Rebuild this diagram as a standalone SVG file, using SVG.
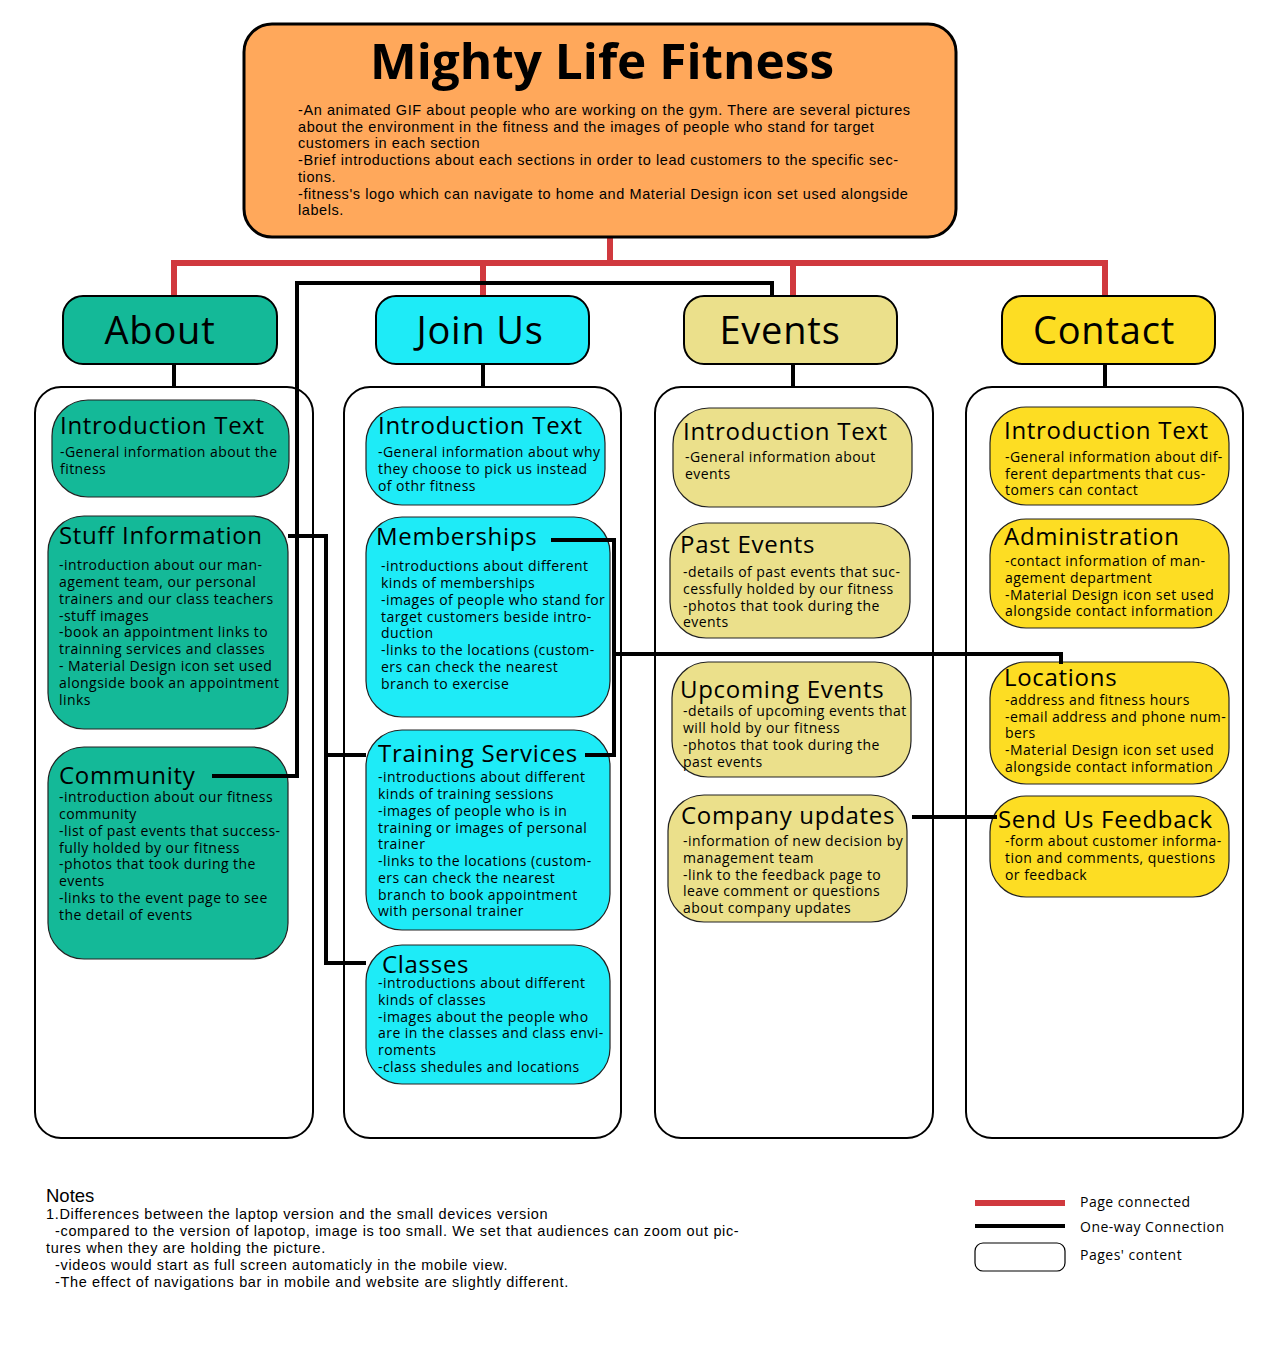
<svg xmlns="http://www.w3.org/2000/svg" width="1280" height="1350" viewBox="0 0 1280 1350">
<style>
.hdr{fill:#FFA85B;stroke:#000;stroke-width:3}
.cat{stroke:#000;stroke-width:2}
.col{fill:#fff;stroke:#000;stroke-width:2}
.item{stroke:#222;stroke-width:1.2}
.teal{fill:#14B998}
.cyan{fill:#1EEBF7}
.khaki{fill:#EBE08B}
.yellow{fill:#FDDD23}
text{font-family:"Open Sans","Liberation Sans",sans-serif;fill:#000}
.title{font-size:48px;font-weight:bold}
.hbody{font-family:"Liberation Sans",sans-serif;font-size:14.5px;letter-spacing:0.58px}
.catt{font-size:38px;letter-spacing:0.8px;text-anchor:middle}
.it{font-size:24px;letter-spacing:0.7px}
.ib{font-size:14px;letter-spacing:0.45px}
.red{fill:none;stroke:#D0393E;stroke-width:6}
.blk{fill:none;stroke:#000;stroke-width:4}
.note{font-family:"Liberation Sans",sans-serif;font-size:14.5px;letter-spacing:0.65px}
.leg{font-size:14px;letter-spacing:0.5px}
</style>
<rect width="1280" height="1350" fill="#fff"/>

<g id="connectors">
<path class="red" d="M610 237V263M174 296V263H1105V296M483 263V296M793 263V296"/>
<path class="blk" d="M174 364V387M483 364V387M793 364V387M1105 364V387"/>
</g>

<g id="header">
<rect class="hdr" x="244" y="24" width="712" height="213" rx="28"/>
<text class="title" x="602" y="79" text-anchor="middle" textLength="464" lengthAdjust="spacingAndGlyphs">Mighty Life Fitness</text>
<text class="hbody" x="298" y="115">-An animated GIF about people who are working on the gym. There are several pictures</text>
<text class="hbody" x="298" y="132">about the environment in the fitness and the images of people who stand for target</text>
<text class="hbody" x="298" y="148">customers in each section</text>
<text class="hbody" x="298" y="165">-Brief introductions about each sections in order to lead customers to the specific sec-</text>
<text class="hbody" x="298" y="182">tions.</text>
<text class="hbody" x="298" y="199">-fitness's logo which can navigate to home and Material Design icon set used alongside</text>
<text class="hbody" x="298" y="215">labels.</text>
</g>

<g id="cat-about"><rect class="cat teal" x="63" y="296" width="214" height="68" rx="20"/><text class="catt" x="160" y="344">About</text></g>
<g id="cat-join"><rect class="cat cyan" x="376" y="296" width="213" height="68" rx="20"/><text class="catt" x="480" y="344">Join Us</text></g>
<g id="cat-events"><rect class="cat khaki" x="684" y="296" width="213" height="68" rx="20"/><text class="catt" x="780" y="344">Events</text></g>
<g id="cat-contact"><rect class="cat yellow" x="1002" y="296" width="213" height="68" rx="20"/><text class="catt" x="1104" y="344">Contact</text></g>

<g id="col-about"><rect class="col" x="35" y="387" width="278" height="751" rx="26"/></g>
<g id="col-join"><rect class="col" x="344" y="387" width="277" height="751" rx="26"/></g>
<g id="col-events"><rect class="col" x="655" y="387" width="278" height="751" rx="26"/></g>
<g id="col-contact"><rect class="col" x="966" y="387" width="277" height="751" rx="26"/></g>

<g id="about-intro"><rect class="item teal" x="52" y="400" width="237" height="97" rx="36"/>
<text class="it" x="60" y="434">Introduction Text</text>
<text class="ib" x="60" y="457">-General information about the</text>
<text class="ib" x="60" y="474">fitness</text></g>

<g id="about-stuff"><rect class="item teal" x="48" y="516" width="240" height="213" rx="36"/>
<text class="it" x="59" y="544">Stuff Information</text>
<text class="ib" x="59" y="570">-introduction about our man-</text>
<text class="ib" x="59" y="587">agement team, our personal</text>
<text class="ib" x="59" y="604">trainers and our class teachers</text>
<text class="ib" x="59" y="621">-stuff images</text>
<text class="ib" x="59" y="637">-book an appointment links to</text>
<text class="ib" x="59" y="654">trainning services and classes</text>
<text class="ib" x="59" y="671">- Material Design icon set used</text>
<text class="ib" x="59" y="688">alongside book an appointment</text>
<text class="ib" x="59" y="705">links</text></g>

<g id="about-community"><rect class="item teal" x="48" y="747" width="240" height="212" rx="36"/>
<text class="it" x="59" y="784">Community</text>
<text class="ib" x="59" y="802">-introduction about our fitness</text>
<text class="ib" x="59" y="819">community</text>
<text class="ib" x="59" y="836">-list of past events that success-</text>
<text class="ib" x="59" y="853">fully holded by our fitness</text>
<text class="ib" x="59" y="869">-photos that took during the</text>
<text class="ib" x="59" y="886">events</text>
<text class="ib" x="59" y="903">-links to the event page to see</text>
<text class="ib" x="59" y="920">the detail of events</text></g>

<g id="join-intro"><rect class="item cyan" x="366" y="407" width="239" height="98" rx="36"/>
<text class="it" x="378" y="434">Introduction Text</text>
<text class="ib" x="378" y="457">-General information about why</text>
<text class="ib" x="378" y="474">they choose to pick us instead</text>
<text class="ib" x="378" y="491">of othr fitness</text></g>

<g id="join-memberships"><rect class="item cyan" x="366" y="517" width="244" height="200" rx="36"/>
<text class="it" x="376" y="545">Memberships</text>
<text class="ib" x="381" y="571">-introductions about different</text>
<text class="ib" x="381" y="588">kinds of memberships</text>
<text class="ib" x="381" y="605">-images of people who stand for</text>
<text class="ib" x="381" y="622">target customers beside intro-</text>
<text class="ib" x="381" y="638">duction</text>
<text class="ib" x="381" y="655">-links to the locations (custom-</text>
<text class="ib" x="381" y="672">ers can check the nearest</text>
<text class="ib" x="381" y="689">branch to exercise</text></g>

<g id="join-training"><rect class="item cyan" x="366" y="730" width="244" height="200" rx="36"/>
<text class="it" x="378" y="762">Training Services</text>
<text class="ib" x="378" y="782">-introductions about different</text>
<text class="ib" x="378" y="799">kinds of training sessions</text>
<text class="ib" x="378" y="816">-images of people who is in</text>
<text class="ib" x="378" y="833">training or images of personal</text>
<text class="ib" x="378" y="849">trainer</text>
<text class="ib" x="378" y="866">-links to the locations (custom-</text>
<text class="ib" x="378" y="883">ers can check the nearest</text>
<text class="ib" x="378" y="900">branch to book appointment</text>
<text class="ib" x="378" y="916">with personal trainer</text></g>

<g id="join-classes"><rect class="item cyan" x="366" y="945" width="244" height="139" rx="36"/>
<text class="it" x="382" y="973">Classes</text>
<text class="ib" x="378" y="988">-introductions about different</text>
<text class="ib" x="378" y="1005">kinds of classes</text>
<text class="ib" x="378" y="1022">-images about the people who</text>
<text class="ib" x="378" y="1038">are in the classes and class envi-</text>
<text class="ib" x="378" y="1055">roments</text>
<text class="ib" x="378" y="1072">-class shedules and locations</text></g>

<g id="events-intro"><rect class="item khaki" x="673" y="408" width="239" height="99" rx="36"/>
<text class="it" x="683" y="440">Introduction Text</text>
<text class="ib" x="685" y="462">-General information about</text>
<text class="ib" x="685" y="479">events</text></g>

<g id="events-past"><rect class="item khaki" x="670" y="523" width="240" height="115" rx="36"/>
<text class="it" x="680" y="553">Past Events</text>
<text class="ib" x="683" y="577">-details of past events that suc-</text>
<text class="ib" x="683" y="594">cessfully holded by our fitness</text>
<text class="ib" x="683" y="611">-photos that took during the</text>
<text class="ib" x="683" y="627">events</text></g>

<g id="events-upcoming"><rect class="item khaki" x="672" y="662" width="239" height="115" rx="36"/>
<text class="it" x="680" y="698">Upcoming Events</text>
<text class="ib" x="683" y="716">-details of upcoming events that</text>
<text class="ib" x="683" y="733">will hold by our fitness</text>
<text class="ib" x="683" y="750">-photos that took during the</text>
<text class="ib" x="683" y="767">past events</text></g>

<g id="events-company"><rect class="item khaki" x="668" y="795" width="239" height="127" rx="36"/>
<text class="it" x="681" y="824">Company updates</text>
<text class="ib" x="683" y="846">-information of new decision by</text>
<text class="ib" x="683" y="863">management team</text>
<text class="ib" x="683" y="880">-link to the feedback page to</text>
<text class="ib" x="683" y="896">leave comment or questions</text>
<text class="ib" x="683" y="913">about company updates</text></g>

<g id="contact-intro"><rect class="item yellow" x="990" y="407" width="239" height="98" rx="36"/>
<text class="it" x="1004" y="439">Introduction Text</text>
<text class="ib" x="1005" y="462">-General information about dif-</text>
<text class="ib" x="1005" y="479">ferent departments that cus-</text>
<text class="ib" x="1005" y="495">tomers can contact</text></g>

<g id="contact-admin"><rect class="item yellow" x="990" y="519" width="239" height="109" rx="36"/>
<text class="it" x="1004" y="545">Administration</text>
<text class="ib" x="1005" y="566">-contact information of man-</text>
<text class="ib" x="1005" y="583">agement department</text>
<text class="ib" x="1005" y="600">-Material Design icon set used</text>
<text class="ib" x="1005" y="616">alongside contact information</text></g>

<g id="contact-locations"><rect class="item yellow" x="990" y="662" width="239" height="122" rx="36"/>
<text class="it" x="1004" y="686">Locations</text>
<text class="ib" x="1005" y="705">-address and fitness hours</text>
<text class="ib" x="1005" y="722">-email address and phone num-</text>
<text class="ib" x="1005" y="738">bers</text>
<text class="ib" x="1005" y="755">-Material Design icon set used</text>
<text class="ib" x="1005" y="772">alongside contact information</text></g>

<g id="contact-feedback"><rect class="item yellow" x="990" y="796" width="239" height="101" rx="36"/>
<text class="it" x="998" y="828">Send Us Feedback</text>
<text class="ib" x="1005" y="846">-form about customer informa-</text>
<text class="ib" x="1005" y="863">tion and comments, questions</text>
<text class="ib" x="1005" y="880">or feedback</text></g>

<g id="links">
<path class="blk" d="M212 776H297V283H772V296"/>
<path class="blk" d="M288 536H326V963H366M326 755H366"/>
<path class="blk" d="M551 540H614V755H585M614 654H1061V664"/>
<path class="blk" d="M912 817H997"/>
</g>

<g id="notes">
<text class="note" x="46" y="1202" style="font-size:18.5px;letter-spacing:0">Notes</text>
<text class="note" x="46" y="1219">1.Differences between the laptop version and the small devices version</text>
<text class="note" x="55" y="1236">-compared to the version of lapotop, image is too small. We set that audiences can zoom out pic-</text>
<text class="note" x="46" y="1253">tures when they are holding the picture.</text>
<text class="note" x="55" y="1270">-videos would start as full screen automaticly in the mobile view.</text>
<text class="note" x="55" y="1287">-The effect of navigations bar in mobile and website are slightly different.</text>
</g>

<g id="legend">
<line x1="975" y1="1203" x2="1065" y2="1203" stroke="#D0393E" stroke-width="6"/>
<line x1="975" y1="1226" x2="1065" y2="1226" stroke="#000" stroke-width="4"/>
<rect x="975" y="1243" width="90" height="28" rx="8" fill="#fff" stroke="#000" stroke-width="1.2"/>
<text class="leg" x="1080" y="1207">Page connected</text>
<text class="leg" x="1080" y="1232">One-way Connection</text>
<text class="leg" x="1080" y="1260">Pages' content</text>
</g>
</svg>
